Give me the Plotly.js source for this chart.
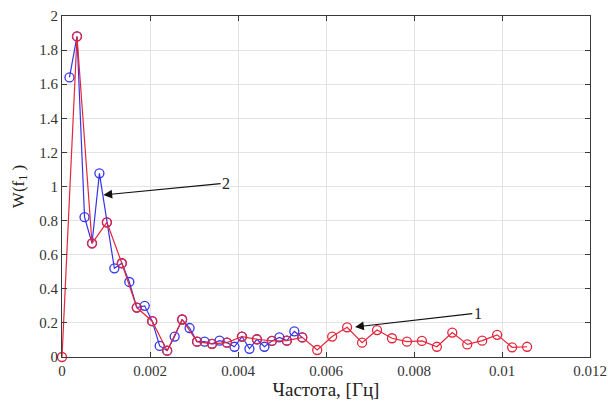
<!DOCTYPE html>
<html>
<head>
<meta charset="utf-8">
<script src="https://cdn.plot.ly/plotly-3.0.1.min.js"></script>
<style>html,body{margin:0;padding:0;background:#fff;}#chart{width:608px;height:403px;}</style>
</head>
<body>
<div id="chart"></div>
<script>
// Series 1 (red)
const freq1 = [0, 0.000341, 0.000682, 0.00102, 0.00136, 0.0017, 0.00205, 0.00239, 0.00273, 0.00307,
  0.00341, 0.00375, 0.00409, 0.00443, 0.00477, 0.00511, 0.00546, 0.0058, 0.00614, 0.00648,
  0.00682, 0.00716, 0.0075, 0.00784, 0.00818, 0.00852, 0.00887, 0.00921, 0.00955, 0.00989,
  0.01023, 0.01057];
const w1 = [0.0, 1.88, 0.667, 0.79, 0.55, 0.29, 0.21, 0.037, 0.22, 0.09,
  0.077, 0.084, 0.12, 0.104, 0.094, 0.096, 0.115, 0.041, 0.12, 0.174,
  0.084, 0.158, 0.11, 0.09, 0.094, 0.06, 0.143, 0.074, 0.096, 0.13,
  0.057, 0.06];
// Series 2 (blue)
const freq2 = [0.00017, 0.000341, 0.000512, 0.000682, 0.00085, 0.00102, 0.00119, 0.00136, 0.00153,
  0.0017, 0.00188, 0.00205, 0.00222, 0.00239, 0.00256, 0.00273, 0.0029, 0.00307, 0.00324,
  0.00341, 0.00358, 0.00375, 0.00392, 0.00409, 0.00426, 0.00443, 0.0046, 0.00477, 0.00494,
  0.00511, 0.00528, 0.00546];
const w2 = [1.64, 1.88, 0.82, 0.667, 1.077, 0.79, 0.52, 0.55, 0.44,
  0.29, 0.30, 0.21, 0.065, 0.037, 0.12, 0.22, 0.17, 0.09, 0.09,
  0.077, 0.096, 0.084, 0.06, 0.12, 0.048, 0.104, 0.06, 0.094, 0.115,
  0.096, 0.15, 0.115];
const xTicks = [0, 0.002, 0.004, 0.006, 0.008, 0.01, 0.012];
const xTickText = ['0', '0.002', '0.004', '0.006', '0.008', '0.01', '0.012'];
const yTicks = [0, 0.2, 0.4, 0.6, 0.8, 1, 1.2, 1.4, 1.6, 1.8, 2];
const yTickText = ['0', '0.2', '0.4', '0.6', '0.8', '1', '1.2', '1.4', '1.6', '1.8', '2'];

const red = 'rgb(228,38,58)';
const blue = 'rgb(52,52,235)';
const serif = '"Liberation Serif", "Times New Roman", serif';

const traces = [
  {x: freq2, y: w2, mode: 'lines+markers', type: 'scatter', name: '2', cliponaxis: false,
   line: {color: blue, width: 1.2},
   marker: {symbol: 'circle-open', size: 9, color: blue, line: {width: 1.3, color: blue}}},
  {x: freq1, y: w1, mode: 'lines+markers', type: 'scatter', name: '1', cliponaxis: false,
   line: {color: red, width: 1.2},
   marker: {symbol: 'circle-open', size: 9, color: red, line: {width: 1.3, color: red}}}
];

const axisCommon = {
  showline: true, linecolor: '#3a3a3a', linewidth: 1, mirror: 'ticks',
  ticks: 'inside', ticklen: 5, tickcolor: '#3a3a3a', tickwidth: 1,
  showgrid: true, gridcolor: '#e3e3e3', gridwidth: 1, zeroline: false,
  tickfont: {family: serif, size: 15, color: '#333'}
};

const layout = {
  width: 608, height: 403,
  margin: {l: 62, r: 18, t: 16, b: 46},
  paper_bgcolor: '#fff', plot_bgcolor: '#fff',
  font: {family: serif},
  showlegend: false,
  xaxis: Object.assign({}, axisCommon, {
    range: [0, 0.012], tickmode: 'array', tickvals: xTicks, ticktext: xTickText,
    title: {text: 'Частота, [Гц]', font: {family: serif, size: 19, color: '#222'}, standoff: 0}
  }),
  yaxis: Object.assign({}, axisCommon, {
    range: [0, 2], tickmode: 'array', tickvals: yTicks, ticktext: yTickText,
    title: {text: 'W(f<sub>1</sub> )', font: {family: serif, size: 17, color: '#222'}, standoff: 10}
  }),
  annotations: [
    {x: 0.00094, y: 0.95, xref: 'x', yref: 'y', ax: 0.00373, ay: 1.02, axref: 'x', ayref: 'y',
     text: '2', showarrow: true, arrowhead: 2, arrowsize: 1.6, arrowwidth: 1.1, arrowcolor: '#111',
     font: {family: serif, size: 16, color: '#222'}},
    {x: 0.00666, y: 0.176, xref: 'x', yref: 'y', ax: 0.00945, ay: 0.258, axref: 'x', ayref: 'y',
     text: '1', showarrow: true, arrowhead: 2, arrowsize: 1.6, arrowwidth: 1.1, arrowcolor: '#111',
     font: {family: serif, size: 16, color: '#222'}}
  ]
};

Plotly.newPlot('chart', traces, layout, {displayModeBar: false, staticPlot: true});
</script>
</body>
</html>
